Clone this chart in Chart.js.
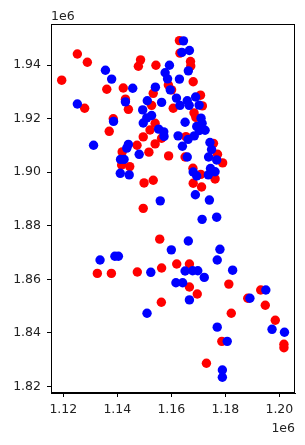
<!DOCTYPE html>
<html lang="en">
<head>
  <meta charset="UTF-8">
  <title>Scatter</title>
  <script src="https://cdn.jsdelivr.net/npm/chart.js"></script>
  <style>
    html, body { margin:0; padding:0; background:#fff; }
    #wrap { width:305px; height:445px; }
  </style>
</head>
<body>
<div id="wrap"><canvas id="chart" width="305" height="445"></canvas></div>
<script>
// Data (x, y in metres)
const redX = [1119400,1125200,1128900,1136100,1127900,1138500,1137000,1142200,1143000,1144100,
  1148600,1147800,1154300,1153300,1152700,1154000,1152100,1149600,1147300,1154000,
  1156400,1141800,1151700,1141600,1144600,1159000,1149900,1153300,1149600,1163000,
  1163200,1167100,1167200,1168100,1158900,1160100,1160700,1170800,1171500,1168400,
  1169100,1165400,1175600,1165100,1177100,1179000,1168000,1170900,1176200,1168100,
  1171200,1155700,1132600,1137800,1147400,1156400,1162000,1166700,1181300,1166700,
  1169600,1156300,1193100,1188300,1194800,1182200,1198500,1178700,1201700,1201700,1173000];
const redY = [1934400,1944200,1941100,1931000,1923900,1920000,1915300,1931500,1927300,1923500,
  1942000,1939600,1940000,1929500,1925000,1918300,1915800,1913200,1910100,1910600,
  1912700,1907600,1907500,1902700,1902100,1906100,1896000,1897000,1886500,1949200,
  1944500,1941400,1939700,1933800,1932600,1930800,1923900,1928800,1924800,1922200,
  1920500,1913300,1910800,1905700,1906700,1903500,1901500,1899200,1897500,1895900,
  1894500,1875000,1862200,1862200,1862700,1864200,1865700,1865700,1858200,1857100,
  1854500,1851400,1856000,1852900,1850300,1847300,1844700,1836800,1835700,1834400,1828600];

const blueX = [1135600,1137900,1125200,1138600,1131200,1145700,1143000,1159300,1157700,1158600,
  1159600,1154100,1151100,1156400,1149400,1152700,1150900,1149600,1155300,1157200,
  1157300,1144100,1143500,1148100,1141200,1142500,1141100,1144400,1155900,1164500,
  1163900,1166700,1166300,1163000,1161900,1163200,1165900,1166600,1169000,1170300,
  1165100,1171000,1171400,1169400,1172500,1170400,1162500,1166200,1168500,1164100,
  1174300,1174900,1165900,1173800,1176800,1174500,1176200,1173700,1168100,1169400,
  1168900,1174100,1171400,1176800,1166300,1160000,1178000,1133600,1139100,1140400,
  1177000,1152400,1165100,1167900,1169800,1172200,1182700,1161700,1164200,1166700,
  1151000,1195000,1189100,1177000,1197300,1201900,1180700,1178900,1178900];
const blueY = [1938100,1934800,1925500,1919000,1910100,1931400,1926300,1940000,1937200,1934900,
  1930800,1931800,1926700,1926100,1923300,1921200,1920300,1918400,1916100,1915100,
  1913400,1910400,1909000,1906700,1904800,1904800,1899600,1899000,1889300,1949100,
  1944800,1945500,1937900,1934800,1927700,1925000,1926700,1925000,1928100,1925100,
  1918700,1920200,1918300,1917100,1915700,1915600,1913600,1912300,1913600,1909700,
  1911100,1908500,1905700,1905700,1904600,1901400,1900200,1899000,1900100,1898600,
  1891600,1889600,1882400,1883200,1874300,1871000,1871200,1867200,1868600,1868600,
  1867200,1862600,1863100,1863200,1863200,1860700,1863400,1858700,1858700,1852300,
  1847300,1856000,1852900,1842100,1841300,1840200,1836800,1826100,1823400];

const xTicks = [1120000,1140000,1160000,1180000,1200000];
const yTicks = [1820000,1840000,1860000,1880000,1900000,1920000,1940000];
const xRange = [1115440, 1205800];
const yRange = [1817500, 1955400];

const pts = (xs, ys) => xs.map((x, i) => ({ x, y: ys[i] }));
const FONT = 'DejaVu Sans';

// Box round the plot and the "1e6" offset labels
const frame = {
  id: 'frame',
  afterDraw(c) {
    const { ctx, chartArea: a } = c;
    ctx.save();
    ctx.strokeStyle = '#000';
    ctx.lineWidth = 1;
    ctx.strokeRect(a.left + 0.5, a.top + 0.5, a.right - a.left - 1, a.bottom - a.top - 1);
    ctx.fillStyle = '#222';
    ctx.font = '12.5px "' + FONT + '"';
    ctx.textAlign = 'left';
    ctx.textBaseline = 'alphabetic';
    ctx.fillText('1e6', a.left, 20);
    ctx.textAlign = 'right';
    ctx.fillText('1e6', a.right, 432);
    ctx.restore();
  }
};

const tickFmt = v => (v / 1e6).toFixed(2);

new Chart(document.getElementById('chart'), {
  type: 'scatter',
  data: {
    datasets: [
      { label: 'blue', data: pts(blueX, blueY), backgroundColor: '#0000ff', borderWidth: 0, pointRadius: 4.7, order: 0 },
      { label: 'red', data: pts(redX, redY), backgroundColor: '#ff0000', borderWidth: 0, pointRadius: 4.7, order: 1 }
    ]
  },
  options: {
    responsive: false,
    animation: false,
    events: [],
    layout: { padding: { left: 0, right: 10, top: 24, bottom: 0 } },
    plugins: { legend: { display: false }, tooltip: { enabled: false } },
    scales: {
      x: {
        type: 'linear', min: xRange[0], max: xRange[1],
        afterBuildTicks: s => { s.ticks = xTicks.map(v => ({ value: v })); },
        afterFit: s => { s.height = 52; },
        grid: { drawOnChartArea: false, drawTicks: true, tickLength: 4, color: '#000' },
        border: { display: true, color: '#000' },
        ticks: { callback: tickFmt, color: '#222', padding: 5, maxRotation: 0, font: { family: FONT, size: 12.5 } }
      },
      y: {
        type: 'linear', min: yRange[0], max: yRange[1],
        afterBuildTicks: s => { s.ticks = yTicks.map(v => ({ value: v })); },
        afterFit: s => { s.width = 51; },
        grid: { drawOnChartArea: false, drawTicks: true, tickLength: 4, color: '#000' },
        border: { display: true, color: '#000' },
        ticks: { callback: tickFmt, color: '#222', padding: 6, font: { family: FONT, size: 12.5 } }
      }
    }
  },
  plugins: [frame]
});
</script>
</body>
</html>
